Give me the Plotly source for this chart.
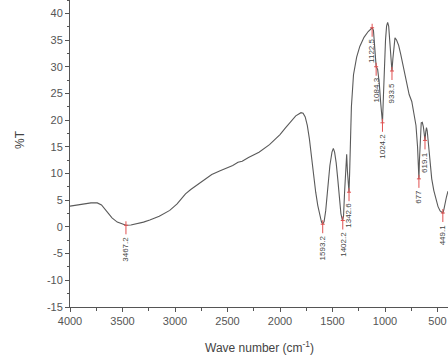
import plotly.graph_objects as go

# Spectrum (wave number in cm^-1, transmittance in %T)
wavenumber = [4000, 3900, 3800, 3740, 3700, 3650, 3600, 3550, 3500, 3467, 3420, 3350, 3300, 3240,
              3150, 3050, 2980, 2930, 2900, 2850, 2760, 2650, 2570, 2450, 2400, 2360, 2300, 2200,
              2100, 2000, 1950, 1900, 1850, 1800, 1780, 1760, 1740, 1720, 1700, 1680, 1660, 1640,
              1620, 1605, 1593, 1580, 1565, 1545, 1525, 1505, 1492, 1480, 1465, 1450, 1435, 1420,
              1405, 1395, 1385, 1372, 1365, 1358, 1350, 1343, 1337, 1330, 1320, 1300, 1270, 1240,
              1200, 1160, 1135, 1122, 1110, 1100, 1090, 1084, 1070, 1055, 1040, 1030, 1024, 1015,
              1005, 995, 985, 975, 965, 955, 945, 934, 925, 915, 905, 890, 870, 850, 820, 800,
              770, 745, 720, 705, 690, 682, 677, 672, 665, 655, 645, 635, 625, 619, 612, 605,
              598, 585, 570, 555, 535, 515, 495, 475, 460, 449, 440, 430, 415, 400]
transmittance = [3.9, 4.2, 4.5, 4.5, 4.1, 2.9, 1.7, 0.9, 0.45, 0.3, 0.35, 0.6, 0.9, 1.3,
                 2.0, 3.1, 4.3, 5.5, 6.2, 7.0, 8.2, 9.8, 10.5, 11.5, 12.1, 12.3, 13.0, 14.0,
                 15.4, 17.3, 18.5, 19.7, 20.8, 21.4, 21.3, 20.6, 19.0, 16.5, 13.0, 9.5, 6.5, 4.0,
                 2.0, 0.9, 0.5, 1.0, 3.0, 7.5, 11.5, 14.0, 14.7, 14.0, 12.0, 9.0, 5.5, 2.5,
                 1.2, 2.0, 6.5, 12.0, 13.6, 10.5, 7.5, 6.5, 10.0, 17.0, 22.5, 28.5, 31.8, 33.8,
                 35.5, 36.6, 37.2, 37.3, 36.8, 34.5, 31.0, 30.0, 29.5, 27.0, 23.0, 20.0, 19.5, 24.5,
                 30.5, 35.0, 37.6, 38.3, 37.6, 34.5, 30.5, 29.2, 31.5, 34.5, 35.4, 35.0, 34.0, 32.3,
                 29.5, 27.5, 24.8, 23.5, 21.0, 19.0, 15.0, 11.0, 9.0, 12.5, 17.0, 19.5, 19.6, 18.8,
                 17.2, 16.2, 17.8, 18.6, 18.0, 14.8, 11.5, 9.0, 6.8, 5.0, 3.8, 3.0, 2.7, 2.6, 3.2,
                 4.3, 5.6, 6.7]

# Labelled bands
peak_wave = [3467.2, 1593.2, 1402.2, 1342.6, 1122.5, 1084.3, 1024.2, 933.5, 677, 619.1, 449.1]
peak_T = [0.3, 0.5, 1.2, 6.5, 37.3, 30.0, 19.5, 29.2, 9.0, 16.2, 2.6]
peak_text = ["3467.2", "1593.2", "1402.2", "1342.6", "1122.5", "1084.3", "1024.2", "933.5",
             "677", "619.1", "449.1"]

x_ticks = [4000, 3500, 3000, 2500, 2000, 1500, 1000, 500]
x_ticktext = ["4000", "3500", "3000", "2500", "2000", "1500", "1000", "500"]
y_ticks = [40, 35, 30, 25, 20, 15, 10, 5, 0, -5, -10, -15]
y_ticktext = ["40", "35", "30", "25", "20", "15", "10", "5", "0", "-5", "-10", "-15"]

FONT = "Liberation Sans, Arial, sans-serif"
TXT = "#555555"

fig = go.Figure()
fig.add_trace(go.Scatter(x=wavenumber, y=transmittance, mode="lines",
                         line=dict(color="#5a5a5a", width=1.1), hoverinfo="skip",
                         showlegend=False))

for w, t, s in zip(peak_wave, peak_T, peak_text):
    fig.add_shape(type="line", xref="x", yref="y", ysizemode="pixel", yanchor=t,
                  x0=w, x1=w, y0=4, y1=-9, line=dict(color="#e05050", width=1))
    fig.add_shape(type="line", xref="x", yref="y", xsizemode="pixel", xanchor=w,
                  x0=-2, x1=2, y0=t, y1=t, line=dict(color="#e05050", width=1))
    fig.add_annotation(x=w, y=t, text=s, textangle=-90, showarrow=False,
                       xanchor="center", yanchor="top", yshift=-9,
                       font=dict(family=FONT, size=8, color="#444444"))

axis_common = dict(showline=True, linecolor="#555555", linewidth=1, mirror=False,
                   showgrid=False, zeroline=False, ticks="outside", ticklen=4,
                   tickcolor="#555555", tickwidth=1, automargin=False,
                   tickfont=dict(family=FONT, size=11, color=TXT))

fig.update_xaxes(range=[4000, 400], tickvals=x_ticks, ticktext=x_ticktext,
                 minor=dict(ticks="outside", ticklen=2.5, tickcolor="#555555", tickwidth=1,
                            dtick=250, tick0=0),
                 **axis_common)
fig.update_yaxes(range=[-15, 42.5], tickvals=y_ticks, ticktext=y_ticktext,
                 minor=dict(ticks="outside", ticklen=2.5, tickcolor="#555555", tickwidth=1,
                            dtick=2.5, tick0=0),
                 **axis_common)

# Axis titles
fig.add_annotation(xref="paper", yref="paper", x=0.5, y=0, yshift=-40, showarrow=False,
                   xanchor="center", yanchor="middle",
                   text="Wave number (cm<sup>-1</sup>)",
                   font=dict(family=FONT, size=12, color="#444444"))
fig.add_annotation(xref="paper", yref="paper", x=0, y=0.544, xshift=-50, showarrow=False,
                   xanchor="center", yanchor="middle", textangle=-90, text="%T",
                   font=dict(family=FONT, size=12, color="#444444"))

fig.update_layout(width=448, height=355, margin=dict(l=70, r=0, t=0, b=48),
                  plot_bgcolor="white", paper_bgcolor="white")

fig.write_html("out.html", config={"displayModeBar": False, "staticPlot": True},
               post_script="document.body.style.margin='0';document.body.style.overflow='hidden';")
